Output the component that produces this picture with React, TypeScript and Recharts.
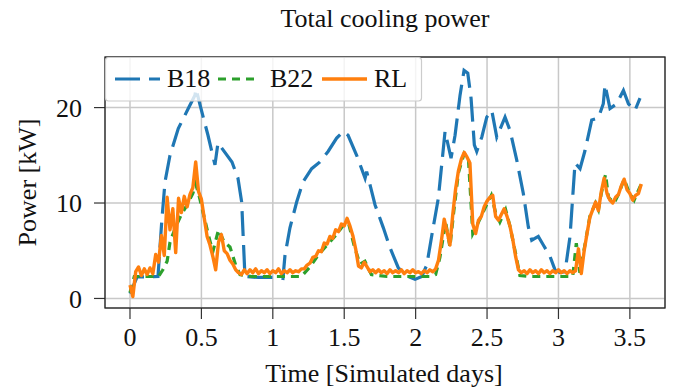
import { CartesianGrid, Line, LineChart, XAxis, YAxis } from "recharts";

const FONT = "Liberation Serif, DejaVu Serif, Times New Roman, Times, serif";

const xTicks = [0, 0.5, 1, 1.5, 2, 2.5, 3, 3.5];
const yTicks = [0, 10, 20];

// B18 baseline (hourly-ish points)
const b18Time = [
  0, 0.05, 0.196, 0.222, 0.245, 0.28, 0.338, 0.408, 0.455, 0.462,
  0.49, 0.546, 0.595, 0.616, 0.714, 0.756, 0.782, 0.791, 0.805, 0.9,
  1.0, 1.071, 1.085, 1.12, 1.167, 1.211, 1.272, 1.33, 1.387, 1.447,
  1.494, 1.527, 1.587, 1.646, 1.657, 1.716, 1.774, 1.821, 1.879, 1.949,
  1.996, 2.043, 2.078, 2.113, 2.159, 2.206, 2.248, 2.276, 2.311, 2.339,
  2.365, 2.388, 2.411, 2.428, 2.463, 2.498, 2.533, 2.568, 2.626, 2.661,
  2.708, 2.754, 2.789, 2.813, 2.859, 2.894, 2.941, 2.976, 3.011, 3.046,
  3.081, 3.116, 3.151, 3.186, 3.233, 3.279, 3.314, 3.326, 3.361, 3.408,
  3.455, 3.49, 3.536, 3.571,
];
const b18Power = [
  0.5, 2.25, 2.3, 8.0, 12.2, 15.0, 17.8, 19.9, 21.3, 22.0,
  20.3, 17.1, 14.0, 16.3, 14.3, 12.6, 10.1, 7.0, 2.3, 2.2,
  2.2, 2.1, 4.5, 7.4, 10.1, 12.2, 13.6, 14.3, 15.4, 16.8,
  17.5, 17.1, 15.0, 12.6, 13.3, 9.8, 7.4, 5.3, 3.2, 2.3,
  2.0, 2.3, 3.5, 6.6, 10.5, 17.5, 14.7, 17.1, 21.3, 23.9,
  23.6, 21.0, 16.1, 15.4, 16.9, 19.0, 19.7, 16.9, 19.0, 17.6,
  14.5, 11.0, 7.5, 6.1, 6.5, 5.6, 4.4, 3.0, 2.7, 2.8,
  6.5, 14.2, 13.6, 15.5, 18.7, 18.9, 20.4, 22.4, 19.9, 20.4,
  21.8, 20.4, 19.7, 21.0,
];

// B22 baseline
const b22Time = [
  0, 0.03, 0.2, 0.23, 0.26, 0.28, 0.32, 0.36, 0.4, 0.44,
  0.46, 0.48, 0.51, 0.55, 0.58, 0.62, 0.66, 0.7, 0.74, 0.77,
  0.85, 1.0, 1.2, 1.26, 1.32, 1.38, 1.44, 1.5, 1.53, 1.57,
  1.61, 1.645, 1.69, 1.8, 2.1, 2.14, 2.17, 2.21, 2.24, 2.27,
  2.3, 2.34, 2.37, 2.4, 2.44, 2.49, 2.53, 2.56, 2.59, 2.63,
  2.66, 2.7, 2.73, 2.8, 3.1, 3.125, 3.15, 3.19, 3.22, 3.26,
  3.28, 3.3, 3.33, 3.35, 3.39, 3.42, 3.46, 3.49, 3.53, 3.55,
  3.58,
];
const b22Power = [
  0.6, 2.3, 2.3, 3.0, 3.9, 5.9, 7.5, 8.8, 9.8, 11.0,
  12.0, 11.0, 9.1, 6.6, 4.9, 7.2, 5.9, 5.4, 3.5, 2.5,
  2.3, 2.3, 2.3, 3.3, 4.6, 5.6, 6.6, 7.8, 7.9, 5.5,
  3.6, 3.9, 2.5, 2.3, 2.3, 2.5, 4.3, 8.0, 5.4, 9.5,
  13.2, 15.2, 14.6, 6.8, 8.0, 9.6, 10.8, 9.0, 8.0, 9.3,
  7.6, 4.7, 2.4, 2.3, 2.3, 5.8, 2.7, 6.0, 8.6, 10.0,
  9.3, 11.0, 13.0, 10.6, 10.0, 10.9, 12.5, 11.3, 10.3, 11.0,
  12.0,
];

// RL controller, sampled every rlStep days
const rlStep = 0.02;
const rlPower = [
  1.4, 0.2, 2.8, 3.3, 2.4, 3.1, 2.5, 3.2, 2.6, 4.6,
  3.8, 6.6, 4.5, 10.6, 7.2, 9.4, 4.8, 10.5, 9.0, 10.7,
  9.6, 10.9, 11.6, 14.3, 11.2, 10.4, 8.4, 6.5, 5.6, 4.4,
  3.0, 5.9, 6.7, 5.0, 4.7, 4.0, 3.6, 3.0, 2.7, 2.5,
  3.0, 2.6, 3.0, 2.7, 3.1, 2.6, 2.9, 2.7, 3.0, 2.6,
  2.9, 2.7, 3.1, 2.6, 2.9, 2.7, 3.0, 2.7, 2.9, 2.8,
  3.1, 3.1, 3.5, 3.7, 4.3, 4.4, 5.0, 4.9, 5.8, 5.7,
  6.5, 6.3, 7.2, 7.0, 7.8, 7.6, 8.4, 7.6, 6.6, 5.2,
  3.4, 3.2, 3.8, 3.3, 2.8, 3.0, 2.7, 3.0, 2.7, 2.9,
  2.6, 3.0, 2.7, 2.9, 2.7, 3.0, 2.6, 2.9, 2.7, 3.0,
  2.7, 2.8, 2.6, 2.9, 2.7, 3.0, 2.8, 3.1, 4.0, 6.0,
  8.3, 7.0, 5.6, 8.8, 11.5, 13.4, 14.6, 15.3, 14.8, 14.2,
  7.8, 6.8, 8.2, 8.6, 9.6, 10.2, 10.6, 10.8, 8.6, 8.2,
  8.8, 9.4, 8.6, 7.6, 6.2, 4.4, 3.0, 2.7, 2.9, 2.6,
  3.0, 2.7, 2.9, 2.6, 3.0, 2.7, 2.9, 2.6, 2.9, 2.7,
  3.0, 2.7, 2.9, 2.6, 2.9, 2.7, 2.9, 5.2, 2.6, 5.0,
  6.8, 8.5, 9.3, 10.1, 9.2, 11.2, 12.6, 11.0, 10.3, 10.0,
  10.6, 10.9, 11.8, 12.5, 11.4, 11.0, 10.3, 10.8, 11.0, 12.0,
];

const pairs = (times: number[], powers: number[]) => times.map((t, i) => ({ t, p: powers[i] }));
const b18Data = pairs(b18Time, b18Power);
const b22Data = pairs(b22Time, b22Power);
const rlData = rlPower.map((p, i) => ({ t: +(i * rlStep).toFixed(2), p }));

const BLUE = "#1f77b4";
const GREEN = "#2ca02c";
const ORANGE = "#ff7f0e";

const textStyle = { fontFamily: FONT, fontSize: 26, fill: "#111" };

export default function App() {
  const tickStyle = { fontSize: 26, fill: "#111", fontFamily: FONT, style: { fontFamily: FONT } };
  return (
    <div style={{ position: "absolute", left: 0, top: 0, width: 680, height: 388, background: "#fff", fontFamily: FONT }}>
      <LineChart width={680} height={388} margin={{ top: 57, right: 15, bottom: 0, left: 0 }} style={{ fontFamily: FONT }}>
        <CartesianGrid stroke="#c8c8c8" strokeWidth={1.5} />
        <XAxis
          type="number"
          dataKey="t"
          domain={[-0.175, 3.746]}
          ticks={xTicks}
          allowDataOverflow
          axisLine={false}
          tickLine={{ stroke: "#333", strokeWidth: 1.2 }}
          tickSize={11}
          tickMargin={9}
          tick={tickStyle}
          height={80}
        />
        <YAxis
          type="number"
          domain={[-1, 25.3]}
          ticks={yTicks}
          allowDataOverflow
          axisLine={false}
          tickLine={{ stroke: "#333", strokeWidth: 1.2 }}
          tickSize={11}
          tickMargin={12}
          tick={tickStyle}
          width={105}
        />
        <Line data={b18Data} dataKey="p" stroke={BLUE} strokeWidth={3.2} strokeDasharray="25 9" dot={false} isAnimationActive={false} />
        <Line data={b22Data} dataKey="p" stroke={GREEN} strokeWidth={3.2} strokeDasharray="8 6" dot={false} isAnimationActive={false} />
        <Line data={rlData} dataKey="p" stroke={ORANGE} strokeWidth={3.4} strokeLinejoin="round" dot={false} isAnimationActive={false} />
      </LineChart>
      <svg width={680} height={388} style={{ position: "absolute", left: 0, top: 0, pointerEvents: "none" }}>
        <rect x={105} y={57} width={560} height={251} fill="none" stroke="#222" strokeWidth={1.3} />
        <rect x={105.5} y={57.5} width={316} height={43.5} rx={3} fill="#fff" fillOpacity={0.8} stroke="#ccc" strokeWidth={1.2} />
        <line x1={115} y1={79} x2={160} y2={79} stroke={BLUE} strokeWidth={3.2} strokeDasharray="25 9" />
        <text x={167} y={87} style={textStyle}>B18</text>
        <line x1={218} y1={79} x2={259} y2={79} stroke={GREEN} strokeWidth={3.2} strokeDasharray="8 6" />
        <text x={270} y={87} style={textStyle}>B22</text>
        <line x1={322} y1={79} x2={367} y2={79} stroke={ORANGE} strokeWidth={3.4} />
        <text x={374} y={87} style={textStyle}>RL</text>
        <text x={385} y={27} textAnchor="middle" style={textStyle}>Total cooling power</text>
        <text x={384} y={382} textAnchor="middle" style={textStyle}>Time [Simulated days]</text>
        <text x={36} y={182.5} textAnchor="middle" style={textStyle} transform="rotate(-90 36 182.5)">Power [kW]</text>
      </svg>
    </div>
  );
}
